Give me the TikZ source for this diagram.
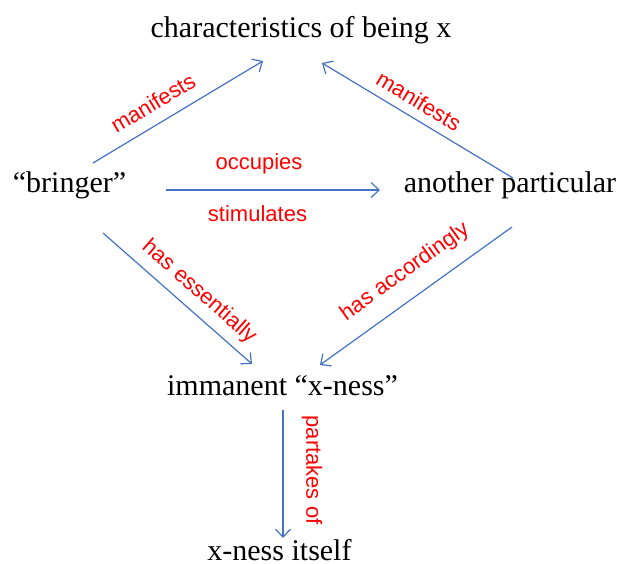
\documentclass[tikz,border=0pt]{standalone}
\usepackage{fontspec}
\setmainfont{Liberation Serif}
\newfontfamily\lsans{Liberation Sans}
\usetikzlibrary{arrows.meta}
\definecolor{arrblue}{HTML}{4472C4}
\definecolor{lblred}{HTML}{FF0000}
\begin{document}
\begin{tikzpicture}[x=1pt,y=1pt,
  term/.style={inner sep=0pt,anchor=base,font=\fontsize{30}{34}\selectfont,text=black},
  lbl/.style={inner sep=0pt,font=\lsans\fontsize{22}{26}\selectfont,text=lblred},
  arr/.style={draw=arrblue,line width=1.2pt,-{Straight Barb[length=8pt,width=15pt,line width=1.2pt]}}]
\useasboundingbox (0,0) rectangle (622,564);
\node[term] (title) at (301,526) {characteristics of being x};
\node[term] (bringer) at (69.5,371) {“bringer”};
\node[term] (another) at (510,371) {another particular};
\node[term] (imm) at (282.5,168) {immanent “x-ness”};
\node[term] (xness) at (279.5,3.5) {x-ness itself};
% connectors
\draw[arr] ([shift={(23.5,30)}]bringer.base) -- ([shift={(-38,-23)}]title.base);
\draw[arr] ([shift={(3,15)}]another.base) -- ([shift={(21,-25)}]title.base);
\draw[arr] ([shift={(96.5,3)}]bringer.base) -- ([shift={(-130,3)}]another.base);
\draw[arr] ([shift={(33.5,-40)}]bringer.base) -- ([shift={(-30.5,32)}]imm.base);
\draw[arr] ([shift={(2,-34)}]another.base) -- ([shift={(37.5,31)}]imm.base);
\draw[arr] ([shift={(0.5,-14)}]imm.base) -- ([shift={(3.5,22.5)}]xness.base);
% labels
\node[lbl,rotate=31] (l1) at (153,461) {manifests};
\node[lbl,rotate=-31] (l2) at (419,463) {manifests};
\node[lbl,anchor=base] (l3) at (259,394) {occupies};
\node[lbl,anchor=base] (l4) at (257.5,342) {stimulates};
\node[lbl,rotate=-41.3] (l5) at (199,272) {has essentially};
\node[lbl,rotate=35.7] (l6) at (405,292) {has accordingly};
\node[lbl,rotate=-90] (l7) at (312,94) {partakes of};
\end{tikzpicture}
\end{document}
